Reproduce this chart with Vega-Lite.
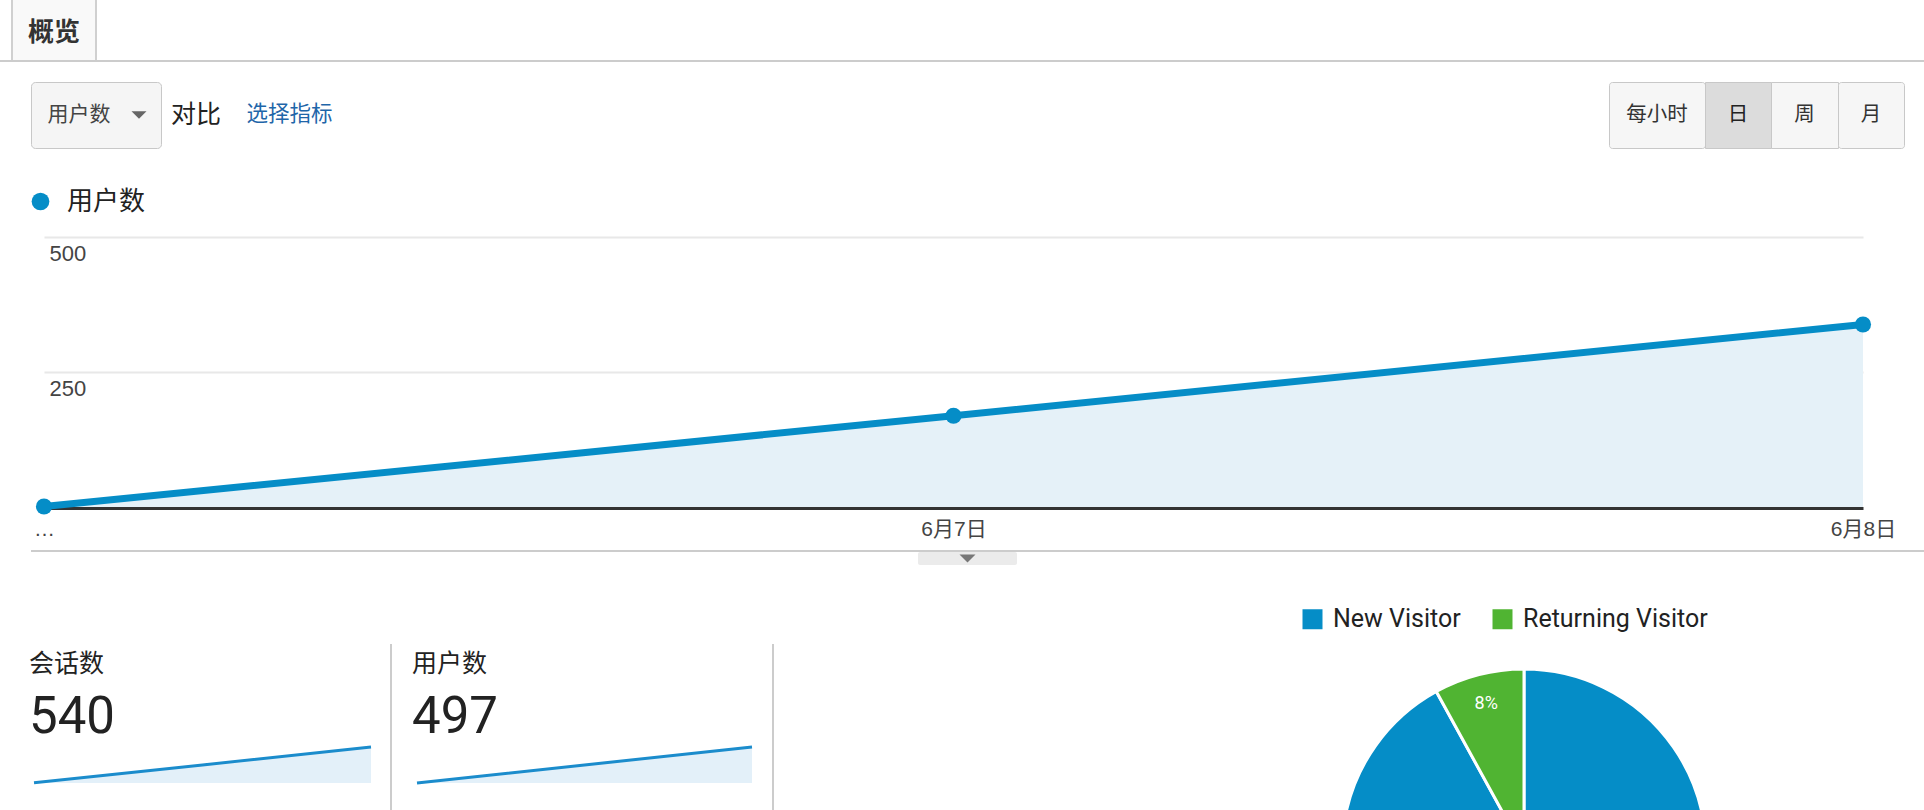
{
"$schema":"https://vega.github.io/schema/vega-lite/v6.json",
"padding":0,
"background":"#ffffff",
"config":{"view":{"stroke":null}},
"datasets":{
 "users":[{"date":"6月6日","users":1,"metric":"用户数"},{"date":"6月7日","users":169,"metric":"用户数"},{"date":"6月8日","users":338,"metric":"用户数"}],
 "sessions":[{"date":"6月6日","sessions":2},{"date":"6月7日","sessions":180},{"date":"6月8日","sessions":358}],
 "visitors":[{"visitor":"New Visitor","share":0.92},{"visitor":"Returning Visitor","share":0.08}],
 "none":[]
},
"spacing":0,
"bounds":"full",
"resolve":{"scale":{"color":"independent","fill":"independent"},"legend":{"color":"independent","fill":"independent"}},
"vconcat":[
 {"hconcat":[
   {"width":11,"height":60,"data":{"name":"none"},"mark":"point"},
   {"width":2,"height":60,"view":{"fill":"#d0d0d0"},"data":{"name":"none"},"mark":"point"},
   {"width":82,"height":60,"view":{"fill":"#f9f9f9"},"data":{"values":[{"t":"概览"}]},"mark":{"type":"text","font":"Noto Sans CJK SC","fontSize":26,"fontWeight":"bold","fill":"#333333","dy":3},"encoding":{"text":{"field":"t"}}},
   {"width":2,"height":60,"view":{"fill":"#d0d0d0"},"data":{"name":"none"},"mark":"point"}
 ],"spacing":0,"bounds":"flush"},
 {"width":1924,"height":2,"view":{"fill":"#cccccc"},"data":{"name":"none"},"mark":"point"},
 {"width":1,"height":19,"data":{"name":"none"},"mark":"point"},
 {"hconcat":[
   {"width":31,"height":66,"data":{"name":"none"},"mark":"point"},
   {"width":130,"height":66,"view":{"fill":"#f5f5f5","stroke":"#c8c8c8","strokeWidth":1,"cornerRadius":4},"data":{"values":[{"t":"用户数"}]},
    "layer":[
     {"mark":{"type":"text","font":"Noto Sans CJK SC","fontSize":21,"fill":"#444444","dx":-17},"encoding":{"text":{"field":"t"}}},
     {"mark":{"type":"point","shape":"M-1,-0.5L1,-0.5L0,0.5Z","filled":true,"fill":"#666666","size":225,"opacity":1,"strokeWidth":0,"xOffset":43},"encoding":{}}
    ]},
   {"width":10,"height":66,"data":{"name":"none"},"mark":"point"},
   {"width":50,"height":66,"data":{"values":[{"t":"对比"}]},"mark":{"type":"text","font":"Noto Sans CJK SC","fontSize":25,"fill":"#222222"},"encoding":{"text":{"field":"t"}}},
   {"width":25,"height":66,"data":{"name":"none"},"mark":"point"},
   {"width":87,"height":66,"data":{"values":[{"t":"选择指标"}]},"mark":{"type":"text","font":"Noto Sans CJK SC","fontSize":21.5,"fill":"#1f66a9"},"encoding":{"text":{"field":"t"}}},
   {"width":1276,"height":66,"data":{"name":"none"},"mark":"point"},
   {"width":96,"height":66,"view":{"fill":"#f6f6f6","stroke":"#c8c8c8","strokeWidth":1,"cornerRadius":3},"data":{"values":[{"t":"每小时"}]},"mark":{"type":"text","font":"Noto Sans CJK SC","fontSize":20.5,"fill":"#333333"},"encoding":{"text":{"field":"t"}}},
   {"width":66,"height":66,"view":{"fill":"#dcdcdc","stroke":"#c8c8c8","strokeWidth":1},"data":{"values":[{"t":"日"}]},"mark":{"type":"text","font":"Noto Sans CJK SC","fontSize":20.5,"fill":"#222222"},"encoding":{"text":{"field":"t"}}},
   {"width":67,"height":66,"view":{"fill":"#f6f6f6","stroke":"#c8c8c8","strokeWidth":1},"data":{"values":[{"t":"周"}]},"mark":{"type":"text","font":"Noto Sans CJK SC","fontSize":20.5,"fill":"#333333"},"encoding":{"text":{"field":"t"}}},
   {"width":66,"height":66,"view":{"fill":"#f6f6f6","stroke":"#c8c8c8","strokeWidth":1,"cornerRadius":3},"data":{"values":[{"t":"月"}]},"mark":{"type":"text","font":"Noto Sans CJK SC","fontSize":20.5,"fill":"#333333"},"encoding":{"text":{"field":"t"}}}
 ],"spacing":0,"bounds":"flush"},
 {"width":1,"height":30,"data":{"name":"none"},"mark":"point"},
 {"hconcat":[
   {"width":44,"height":371,"data":{"name":"none"},"mark":"point"},
   {"width":1819,"height":328,
    "data":{"name":"users"},
    "encoding":{
     "x":{"field":"date","type":"ordinal","scale":{"type":"point","padding":0},
          "axis":{"title":null,"ticks":false,"tickSize":0,"grid":false,"domain":true,"domainColor":"#333333","domainWidth":3,"offset":1,"labelAngle":0,"labelPadding":10,"labelFont":"Liberation Sans, Noto Sans CJK SC","labelFontSize":21,"labelColor":"#444444","labelOverlap":false,"labelExpr":"datum.value == '6月6日' ? '…' : datum.label"}},
     "y":{"field":"users","type":"quantitative","scale":{"domain":[0,607.4],"nice":false},
          "axis":{"title":null,"values":[250,500],"domain":false,"ticks":false,"tickSize":0,"grid":true,"gridColor":"#e8e8e8","gridWidth":2,"labelAlign":"left","labelBaseline":"top","labelPadding":-5,"labelOffset":7,"labelFont":"Liberation Sans","labelFontSize":22,"labelColor":"#444444"}}
    },
    "layer":[
     {"mark":{"type":"area","fill":"#e5f1f8","opacity":1}},
     {"mark":{"type":"line","stroke":"#058dc7","strokeWidth":7}},
     {"mark":{"type":"point","filled":true,"size":260,"opacity":1,"strokeWidth":0},
      "encoding":{"fill":{"field":"metric","type":"nominal","scale":{"range":["#058dc7"]},
        "legend":{"title":null,"orient":"none","legendX":-16.5,"legendY":9.5,"symbolType":"circle","symbolSize":314,"symbolStrokeWidth":0,"labelFont":"Noto Sans CJK SC","labelFontSize":26,"labelColor":"#222222","labelOffset":13.5}}}}
    ]}
 ],"spacing":0,"bounds":"flush","resolve":{"scale":{"color":"independent","fill":"independent"},"legend":{"color":"independent","fill":"independent"}}},
 {"hconcat":[
   {"width":31,"height":2,"data":{"name":"none"},"mark":"point"},
   {"width":1893,"height":2,"view":{"fill":"#cccccc"},"data":{"name":"none"},"mark":"point"}
 ],"spacing":0,"bounds":"flush"},
 {"hconcat":[
   {"width":918,"height":13,"data":{"name":"none"},"mark":"point"},
   {"width":99,"height":13,"view":{"fill":"#ebebeb","cornerRadius":2},"data":{"values":[{"t":"v"}]},"mark":{"type":"point","shape":"M-1,-0.5L1,-0.5L0,0.5Z","filled":true,"fill":"#777777","size":256,"opacity":1,"strokeWidth":0},"encoding":{}}
 ],"spacing":0,"bounds":"flush"},
 {"width":1,"height":40.5,"data":{"name":"none"},"mark":"point"},
 {"hconcat":[
   {"width":34,"height":1,"data":{"name":"none"},"mark":"point"},
   {"width":337,"height":139,"data":{"name":"sessions"},
    "title":{"text":"会话数","subtitle":"540","anchor":"start","frame":"group","dx":-5,"offset":-99,"font":"Noto Sans CJK SC","fontSize":25,"fontWeight":"normal","color":"#222222","subtitleFont":"Roboto","subtitleFontSize":51,"subtitleColor":"#222222","subtitlePadding":16},
    "encoding":{"x":{"field":"date","type":"ordinal","scale":{"type":"point","padding":0},"axis":null},
                "y":{"field":"sessions","type":"quantitative","scale":{"domain":[0,1382.2],"nice":false},"axis":null}},
    "layer":[{"mark":{"type":"area","fill":"#e3f0f9","opacity":1}},{"mark":{"type":"line","stroke":"#1b8ccc","strokeWidth":3}}]},
   {"width":19,"height":1,"data":{"name":"none"},"mark":"point"},
   {"width":2,"height":166,"view":{"fill":"#cccccc"},"data":{"name":"none"},"mark":"point"},
   {"width":25,"height":1,"data":{"name":"none"},"mark":"point"},
   {"width":335,"height":139,"data":{"name":"users"},
    "title":{"text":"用户数","subtitle":"497","anchor":"start","frame":"group","dx":-5,"offset":-99,"font":"Noto Sans CJK SC","fontSize":25,"fontWeight":"normal","color":"#222222","subtitleFont":"Roboto","subtitleFontSize":51,"subtitleColor":"#222222","subtitlePadding":16},
    "encoding":{"x":{"field":"date","type":"ordinal","scale":{"type":"point","padding":0},"axis":null},
                "y":{"field":"users","type":"quantitative","scale":{"domain":[0,1305.1],"nice":false},"axis":null}},
    "layer":[{"mark":{"type":"area","fill":"#e3f0f9","opacity":1}},{"mark":{"type":"line","stroke":"#1b8ccc","strokeWidth":3}}]},
   {"width":20,"height":1,"data":{"name":"none"},"mark":"point"},
   {"width":2,"height":166,"view":{"fill":"#cccccc"},"data":{"name":"none"},"mark":"point"},
   {"width":568,"height":1,"data":{"name":"none"},"mark":"point"},
   {"width":364,"height":166,"data":{"name":"visitors"},
    "encoding":{"theta":{"field":"share","type":"quantitative","stack":true},"order":{"field":"share","type":"quantitative","sort":"descending"}},
    "layer":[
     {"mark":{"type":"arc","radius":182,"stroke":"#ffffff","strokeWidth":3,"yOffset":124,"clip":true},
      "encoding":{"color":{"field":"visitor","type":"nominal","scale":{"domain":["New Visitor","Returning Visitor"],"range":["#058dc7","#50b432"]},
        "legend":{"title":null,"orient":"none","legendX":-42,"legendY":-37.5,"direction":"horizontal","symbolType":"square","symbolSize":400,"symbolStrokeWidth":0,"symbolOpacity":1,"labelFont":"Roboto","labelFontSize":25,"labelColor":"#222222","labelOffset":8,"labelLimit":400,"columnPadding":29}}}},
     {"mark":{"type":"text","radius":152,"yOffset":124,"fill":"#ffffff","font":"Roboto","fontSize":18,"clip":true},
      "encoding":{"text":{"field":"share","type":"quantitative","format":".0%"}}}
    ]}
 ],"spacing":0,"bounds":"flush","resolve":{"scale":{"color":"independent","fill":"independent"},"legend":{"color":"independent","fill":"independent"}}}
]
}
